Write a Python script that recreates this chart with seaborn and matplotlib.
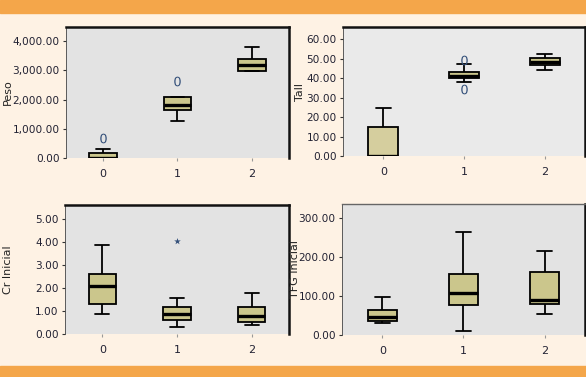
import matplotlib
matplotlib.use("Agg")
import matplotlib.pyplot as plt
from matplotlib.patches import Rectangle
from matplotlib.ticker import FuncFormatter, MultipleLocator
import pandas as pd
import seaborn as sns

sns.set_style("white")
plt.rcParams['font.family'] = ['DejaVu Sans']

grups = ['0', '1', '2']

# cinc valors per grup: bigoti inferior, Q1, mediana, Q3, bigoti superior
peso = {'0': [0, 0, 0, 186, 323],
        '1': [1251, 1629, 1821, 2086, 2086],
        '2': [2969, 2969, 3186, 3381, 3794]}
peso_out_x = ['0', '1']
peso_out_y = [667, 2636]

tall = {'0': [0, 0, 0, 14.7, 24.5],
        '1': [38.3, 40.3, 41.0, 43.4, 47.5],
        '2': [44.4, 46.8, 48.2, 50.3, 52.6]}
tall_out_x = ['1', '1']
tall_out_y = [49.6, 34.7]

cr = {'0': [0.87, 1.30, 2.09, 2.60, 3.88],
      '1': [0.29, 0.60, 0.89, 1.17, 1.56],
      '2': [0.41, 0.51, 0.80, 1.17, 1.80]}
cr_out_x = ['1']
cr_out_y = [4.05]

tfg = {'0': [30, 35, 45, 64, 97],
       '1': [10, 76.9, 109, 155.5, 264],
       '2': [53, 78.5, 88.7, 161.5, 215]}

panells = [
    ('Peso', peso, peso_out_x, peso_out_y, '$0$', 4480, 1000, [0.1126, 0.5809, 0.3805, 0.3475], '#E3E3E3', -0.262),
    ('Tall', tall, tall_out_x, tall_out_y, '$0$', 66.3, 10, [0.5853, 0.5862, 0.4130, 0.3420], '#EAEAEA', -0.178),
    ('Cr Inicial', cr, cr_out_x, cr_out_y, '*', 5.63, 1, [0.1109, 0.1141, 0.3823, 0.3420], '#E3E3E3', -0.256),
    ('TFG Inicial', tfg, [], [], '$0$', 336, 100, [0.5836, 0.1114, 0.4147, 0.3475], '#E3E3E3', -0.192),
]

fig = plt.figure(figsize=(5.86, 3.77), dpi=100)
fig.patch.set_facecolor('#FEF2E4')
# franges taronja de dalt i de baix
fig.patches.append(Rectangle((0, 0.966), 1, 0.034, transform=fig.transFigure, color='#F4A64A', zorder=0))
fig.patches.append(Rectangle((0, 0), 1, 0.030, transform=fig.transFigure, color='#F4A64A', zorder=0))

for nom, dades, ox, oy, marca, ymax, pas, pos, fons, lx in panells:
    ax = fig.add_axes(pos)
    ax.set_facecolor(fons)
    df = pd.DataFrame([(g, v) for g in grups for v in dades[g]], columns=['grup', 'valor'])
    sns.boxplot(data=df, x='grup', y='valor', order=grups, ax=ax, whis=(0, 100),
                width=0.37, color='#CBC68C', saturation=1, linecolor='black', linewidth=1.3,
                medianprops={'linewidth': 2.4, 'color': 'black'})
    if nom == 'Tall':
        ax.patches[0].set_facecolor('#D5CE9E')
    if len(ox):
        out = pd.DataFrame({'grup': ox, 'valor': oy})
        sns.stripplot(data=out, x='grup', y='valor', order=grups, ax=ax, jitter=False,
                      marker=marca, size=7 if marca != '*' else 5, color='#34507A', zorder=5)
    ax.set_xlim(-0.5, 2.5)
    ax.set_ylim(0, ymax)
    ax.yaxis.set_major_locator(MultipleLocator(pas))
    ax.yaxis.set_major_formatter(FuncFormatter(lambda v, p: f'{v:,.2f}'))
    ax.set_xlabel('')
    ax.set_ylabel(nom, fontsize=8, color='#222222', va='center')
    ax.yaxis.set_label_coords(lx, 0.5)
    ax.tick_params(axis='y', left=True, length=2.5, width=0.8, color='#333333', labelsize=7.6, pad=2, labelcolor='#222233')
    ax.tick_params(axis='x', bottom=True, length=2, width=0.8, color='#999999', labelsize=8, pad=6, labelcolor='#222233')
    for s in ['top', 'right']:
        ax.spines[s].set_visible(True)
        ax.spines[s].set_linewidth(1.8)
        ax.spines[s].set_color('#111111')
    ax.spines['left'].set_visible(True)
    ax.spines['left'].set_linewidth(0.6)
    ax.spines['left'].set_color('#444444')
    ax.spines['bottom'].set_visible(False)
    if nom == 'TFG Inicial':
        ax.spines['top'].set_linewidth(1.0)
        ax.spines['top'].set_color('#666666')

fig.savefig('out.png', dpi=100, facecolor=fig.get_facecolor())
